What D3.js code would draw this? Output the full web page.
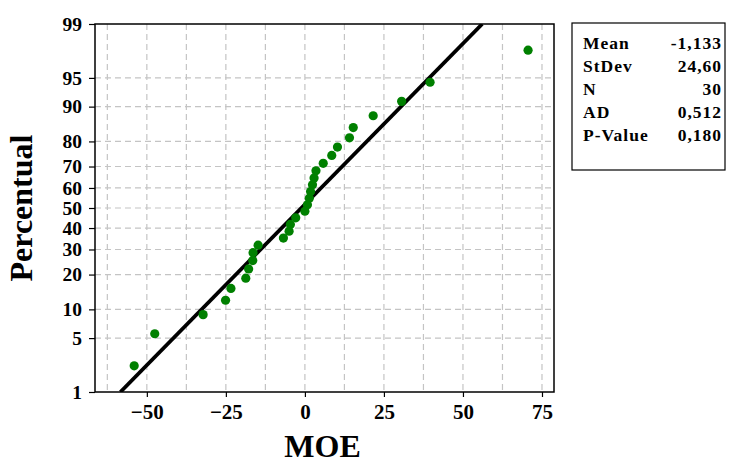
<!DOCTYPE html>
<html>
<head>
<meta charset="utf-8">
<script src="https://cdn.jsdelivr.net/npm/d3@7"></script>
<style>
  html, body { margin: 0; padding: 0; background: #fff; }
  svg { display: block; }
  text { font-family: "Liberation Serif", "Times New Roman", serif; font-weight: bold; fill: #000; }
</style>
</head>
<body>
<svg id="chart" width="732" height="463"></svg>
<script>
// ---- data ----
const moeValues = [-54.0, -47.5, -32.2, -25.1, -23.4, -18.7, -17.8, -16.5, -16.4, -14.8,
                   -6.8, -5.0, -4.6, -2.9, 0.0, 0.8, 1.4, 1.8, 2.4, 2.9,
                   3.5, 5.8, 8.5, 10.3, 14.1, 15.3, 21.6, 30.6, 39.6, 70.6];
const xTickValues = [-50, -25, 0, 25, 50, 75];
const xGridValues = [-62.5, -50, -37.5, -25, -12.5, 0, 12.5, 25, 37.5, 50, 62.5, 75];
const yTickValues = [1, 5, 10, 20, 30, 40, 50, 60, 70, 80, 90, 95, 99];
const statLabels = ["Mean", "StDev", "N", "AD", "P-Value"];
const statTexts = ["-1,133", "24,60", "30", "0,512", "0,180"];
const fitMean = -1.133;
const fitStDev = 24.60;

// inverse normal CDF (Acklam)
function probit(p) {
  const a = [-3.969683028665376e+01, 2.209460984245205e+02, -2.759285104469687e+02, 1.383577518672690e+02, -3.066479806614716e+01, 2.506628277459239e+00];
  const b = [-5.447609879822406e+01, 1.615858368580409e+02, -1.556989798598866e+02, 6.680131188771972e+01, -1.328068155288572e+01];
  const c = [-7.784894002430293e-03, -3.223964580411365e-01, -2.400758277161838e+00, -2.549671010114583e+00, 4.374664141464968e+00, 2.938163982698783e+00];
  const d = [7.784695709041462e-03, 3.224671290700398e-01, 2.445134137142996e+00, 3.754408661907416e+00];
  const pl = 0.02425, ph = 1 - pl;
  let q, r;
  if (p < pl) {
    q = Math.sqrt(-2 * Math.log(p));
    return (((((c[0]*q+c[1])*q+c[2])*q+c[3])*q+c[4])*q+c[5]) / ((((d[0]*q+d[1])*q+d[2])*q+d[3])*q+1);
  } else if (p <= ph) {
    q = p - 0.5; r = q*q;
    return (((((a[0]*r+a[1])*r+a[2])*r+a[3])*r+a[4])*r+a[5])*q / (((((b[0]*r+b[1])*r+b[2])*r+b[3])*r+b[4])*r+1);
  } else {
    q = Math.sqrt(-2 * Math.log(1 - p));
    return -(((((c[0]*q+c[1])*q+c[2])*q+c[3])*q+c[4])*q+c[5]) / ((((d[0]*q+d[1])*q+d[2])*q+d[3])*q+1);
  }
}

// ---- layout ----
const svg = d3.select("#chart");
const L = 95, R = 554, T = 24, B = 392;

const x = d3.scaleLinear().domain([-66.4, 78.8]).range([L, R]);
const zScale = d3.scaleLinear().domain([probit(0.01), probit(0.99)]).range([B, T]);
const y = pct => zScale(probit(pct / 100));

// grid
const grid = svg.append("g");
grid.selectAll("line.vg").data(xGridValues).enter().append("line")
  .attr("x1", d => x(d)).attr("x2", d => x(d)).attr("y1", T).attr("y2", B)
  .attr("stroke", "#c4c4c4").attr("stroke-width", 1.2).attr("stroke-dasharray", "6,4");
grid.selectAll("line.hg").data(yTickValues.filter(v => v > 1 && v < 99)).enter().append("line")
  .attr("x1", L).attr("x2", R).attr("y1", d => y(d)).attr("y2", d => y(d))
  .attr("stroke", "#c4c4c4").attr("stroke-width", 1.2).attr("stroke-dasharray", "6,4");

// axes
const xAxis = d3.axisBottom(x).tickValues(xTickValues).tickSize(5).tickSizeOuter(0).tickPadding(7)
  .tickFormat(d3.format("d"));
const gx = svg.append("g").attr("transform", `translate(0,${B})`).call(xAxis);
gx.select(".domain").remove();
gx.selectAll(".tick line").attr("stroke", "#000").attr("stroke-width", 1.2);
gx.selectAll(".tick text").style("font-size", "21px").style("font-family", "'Liberation Serif', serif").style("font-weight", "bold");

const yAxisScale = d3.scaleLinear().domain(zScale.domain()).range(zScale.range());
const yAxis = d3.axisLeft(yAxisScale).tickValues(yTickValues.map(v => probit(v / 100)))
  .tickSize(6).tickSizeOuter(0).tickPadding(7)
  .tickFormat((d, i) => yTickValues[i]);
const gy = svg.append("g").attr("transform", `translate(${L},0)`).call(yAxis);
gy.select(".domain").remove();
gy.selectAll(".tick line").attr("stroke", "#000").attr("stroke-width", 1.2);
gy.selectAll(".tick text").style("font-size", "19.5px").style("font-family", "'Liberation Serif', serif").style("font-weight", "bold");

// frame
svg.append("rect").attr("x", L).attr("y", T).attr("width", R - L).attr("height", B - T)
  .attr("fill", "none").attr("stroke", "#000").attr("stroke-width", 1.5);

// clip
svg.append("clipPath").attr("id", "plotclip").append("rect")
  .attr("x", L).attr("y", T).attr("width", R - L).attr("height", B - T);

// fitted line
const zLo = probit(0.01), zHi = probit(0.99);
const fitPts = [zLo, zHi].map(z => [x(fitMean + fitStDev * z), zScale(z)]);
svg.append("path").attr("clip-path", "url(#plotclip)")
  .attr("d", d3.line()(fitPts))
  .attr("stroke", "#000").attr("stroke-width", 3.8).attr("fill", "none");

// points (median-rank plotting positions)
const sorted = moeValues.slice().sort(d3.ascending);
const n = sorted.length;
const pts = sorted.map((v, i) => ({ v, p: (i + 1 - 0.3) / (n + 0.4) }));
svg.append("g").selectAll("circle").data(pts).enter().append("circle")
  .attr("cx", d => x(d.v)).attr("cy", d => zScale(probit(d.p)))
  .attr("r", 4.6).attr("fill", "#008000");

// axis titles
svg.append("text").attr("x", (L + R) / 2 - 2).attr("y", 457).attr("text-anchor", "middle")
  .style("font-size", "32px").text("MOE");
svg.append("text").attr("transform", `translate(32,${(T + B) / 2}) rotate(-90)`)
  .attr("text-anchor", "middle").style("font-size", "32px").text("Percentual");

// stats box
const bx = 572, by = 23, bw = 153, bh = 147;
svg.append("rect").attr("x", bx).attr("y", by).attr("width", bw).attr("height", bh)
  .attr("fill", "#fff").attr("stroke", "#000").attr("stroke-width", 1.2);
const rowY = d3.scaleLinear().domain([0, 4]).range([49, 140.5]);
const sg = svg.append("g");
sg.selectAll("text.lab").data(statLabels).enter().append("text")
  .attr("x", bx + 11).attr("y", (d, i) => rowY(i))
  .style("font-size", "17.5px").style("letter-spacing", "1px").text(d => d);
sg.selectAll("text.val").data(statTexts).enter().append("text")
  .attr("x", bx + bw - 3).attr("y", (d, i) => rowY(i)).attr("text-anchor", "end")
  .style("font-size", "17.5px").style("letter-spacing", "1px").text(d => d);
</script>
</body>
</html>
